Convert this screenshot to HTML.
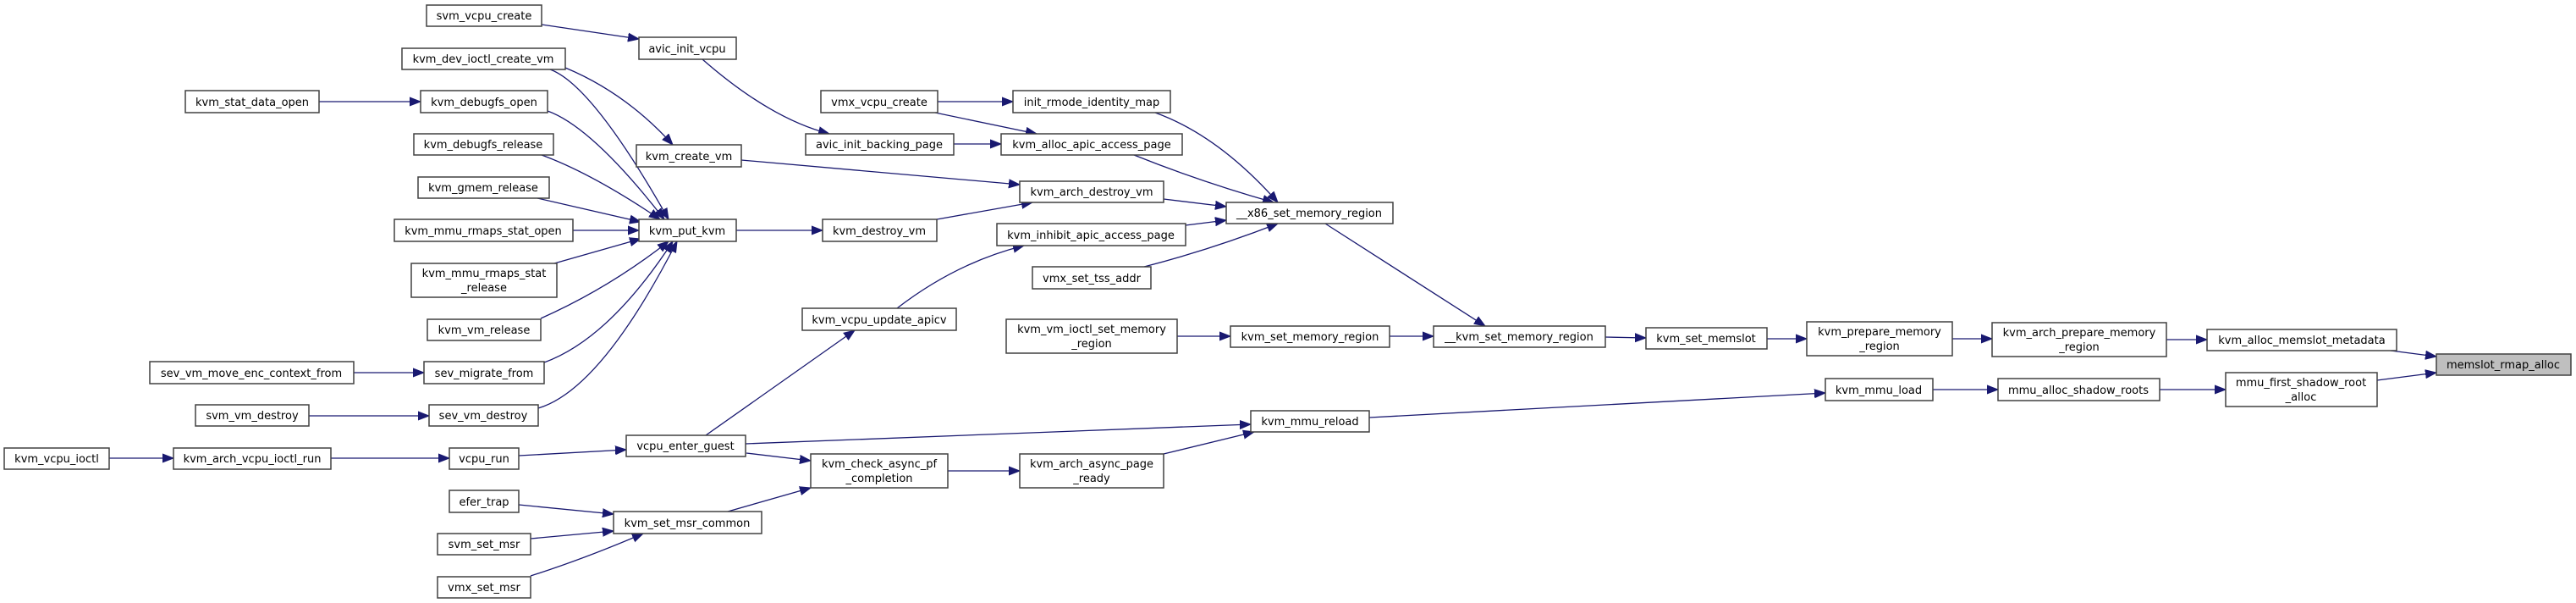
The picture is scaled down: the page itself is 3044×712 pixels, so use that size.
<!DOCTYPE html>
<html><head><meta charset="utf-8"><style>
html,body{margin:0;padding:0;background:#fff;width:3044px;height:712px;overflow:hidden}
svg text{font-family:"DejaVu Sans","Liberation Sans",sans-serif;font-size:13px;fill:#000;text-anchor:middle}
rect{fill:#fff;stroke:#404040;stroke-width:1.5}
path{fill:none;stroke:#191970;stroke-width:1.3}
</style></head><body>
<svg width="3044" height="712" viewBox="0 0 3044 712" xmlns="http://www.w3.org/2000/svg">
<defs><marker id="a" markerUnits="userSpaceOnUse" markerWidth="14" markerHeight="12" refX="13" refY="6" orient="auto"><path d="M0,1 L13,6 L0,11 Z" style="fill:#191970;stroke:#191970;stroke-width:1"/></marker></defs>
<g marker-end="url(#a)">
<path d="M640,29 L755,46"/>
<path d="M668,80 Q740,110 795,171"/>
<path d="M650,82 Q700,100 790,259"/>
<path d="M377,120 L497,120"/>
<path d="M647,131 Q700,150 785,259"/>
<path d="M640,183 Q700,205 780,259"/>
<path d="M635,234 L757,262"/>
<path d="M677,272 L755,272"/>
<path d="M655,311 L757,282"/>
<path d="M639,376 Q720,340 790,285"/>
<path d="M643,428 Q720,400 795,285"/>
<path d="M636,482 Q710,460 800,285"/>
<path d="M418,440 L501,440"/>
<path d="M365,491 L507,491"/>
<path d="M129,541 L205,541"/>
<path d="M391,541 L531,541"/>
<path d="M613,538 L740,531"/>
<path d="M613,596 L725,607"/>
<path d="M627,636 L725,627"/>
<path d="M627,680 Q690,660 760,630"/>
<path d="M830,70 Q910,140 980,158"/>
<path d="M876,189 L1205,218"/>
<path d="M870,272 L972,272"/>
<path d="M1107,259 L1220,239"/>
<path d="M1108,120 L1197,120"/>
<path d="M1105,133 L1225,158"/>
<path d="M1127,170 L1183,170"/>
<path d="M1365,133 Q1440,160 1510,239"/>
<path d="M1340,183 Q1420,215 1505,239"/>
<path d="M1375,235 L1449,244"/>
<path d="M1401,266 L1449,260"/>
<path d="M1352,315 Q1430,295 1510,264"/>
<path d="M1060,364 Q1130,310 1210,290"/>
<path d="M834,514 L1010,390"/>
<path d="M882,535 L958,544"/>
<path d="M881,524 L1478,501"/>
<path d="M860,604 L958,576"/>
<path d="M1120,556 L1205,556"/>
<path d="M1375,536 L1482,510"/>
<path d="M1391,397 L1454,397"/>
<path d="M1642,397 L1694,397"/>
<path d="M1566,264 L1755,385"/>
<path d="M1897,398 L1945,399"/>
<path d="M2088,400 L2135,400"/>
<path d="M2307,400 L2354,400"/>
<path d="M2560,401 L2608,401"/>
<path d="M2825,414 L2879,421"/>
<path d="M1618,493 L2157,464"/>
<path d="M2284,460 L2361,460"/>
<path d="M2552,460 L2630,460"/>
<path d="M2809,449 L2879,440"/>
</g>
<g>
<rect x="504" y="6" width="136" height="25"/><text x="572" y="23">svm_vcpu_create</text>
<rect x="475" y="57" width="193" height="25"/><text x="571" y="74">kvm_dev_ioctl_create_vm</text>
<rect x="219" y="107" width="158" height="26"/><text x="298" y="125">kvm_stat_data_open</text>
<rect x="497" y="107" width="150" height="26"/><text x="572" y="125">kvm_debugfs_open</text>
<rect x="489" y="158" width="165" height="25"/><text x="571" y="175">kvm_debugfs_release</text>
<rect x="494" y="209" width="155" height="25"/><text x="571" y="226">kvm_gmem_release</text>
<rect x="466" y="259" width="211" height="26"/><text x="571" y="277">kvm_mmu_rmaps_stat_open</text>
<rect x="486" y="311" width="172" height="40"/><text x="572" y="327">kvm_mmu_rmaps_stat</text><text x="572" y="344">_release</text>
<rect x="505" y="377" width="134" height="25"/><text x="572" y="394">kvm_vm_release</text>
<rect x="177" y="427" width="241" height="26"/><text x="297" y="445">sev_vm_move_enc_context_from</text>
<rect x="501" y="427" width="142" height="26"/><text x="572" y="445">sev_migrate_from</text>
<rect x="231" y="478" width="134" height="25"/><text x="298" y="495">svm_vm_destroy</text>
<rect x="507" y="478" width="129" height="25"/><text x="571" y="495">sev_vm_destroy</text>
<rect x="5" y="529" width="124" height="25"/><text x="67" y="546">kvm_vcpu_ioctl</text>
<rect x="205" y="529" width="186" height="25"/><text x="298" y="546">kvm_arch_vcpu_ioctl_run</text>
<rect x="531" y="529" width="82" height="25"/><text x="572" y="546">vcpu_run</text>
<rect x="531" y="579" width="82" height="26"/><text x="572" y="597">efer_trap</text>
<rect x="517" y="630" width="110" height="25"/><text x="572" y="647">svm_set_msr</text>
<rect x="517" y="681" width="110" height="25"/><text x="572" y="698">vmx_set_msr</text>
<rect x="725" y="604" width="175" height="26"/><text x="812" y="622">kvm_set_msr_common</text>
<rect x="755" y="44" width="115" height="26"/><text x="812" y="62">avic_init_vcpu</text>
<rect x="752" y="171" width="124" height="26"/><text x="814" y="189">kvm_create_vm</text>
<rect x="755" y="259" width="115" height="26"/><text x="812" y="277">kvm_put_kvm</text>
<rect x="970" y="107" width="138" height="26"/><text x="1039" y="125">vmx_vcpu_create</text>
<rect x="1197" y="107" width="186" height="26"/><text x="1290" y="125">init_rmode_identity_map</text>
<rect x="952" y="158" width="175" height="25"/><text x="1039" y="175">avic_init_backing_page</text>
<rect x="1183" y="158" width="214" height="25"/><text x="1290" y="175">kvm_alloc_apic_access_page</text>
<rect x="1205" y="214" width="170" height="25"/><text x="1290" y="231">kvm_arch_destroy_vm</text>
<rect x="972" y="259" width="135" height="26"/><text x="1039" y="277">kvm_destroy_vm</text>
<rect x="1178" y="264" width="223" height="26"/><text x="1289" y="282">kvm_inhibit_apic_access_page</text>
<rect x="1220" y="315" width="140" height="26"/><text x="1290" y="333">vmx_set_tss_addr</text>
<rect x="1449" y="239" width="197" height="25"/><text x="1547" y="256">__x86_set_memory_region</text>
<rect x="948" y="364" width="182" height="26"/><text x="1039" y="382">kvm_vcpu_update_apicv</text>
<rect x="1189" y="377" width="202" height="40"/><text x="1290" y="393">kvm_vm_ioctl_set_memory</text><text x="1290" y="410">_region</text>
<rect x="1454" y="385" width="188" height="25"/><text x="1548" y="402">kvm_set_memory_region</text>
<rect x="740" y="514" width="141" height="25"/><text x="810" y="531">vcpu_enter_guest</text>
<rect x="958" y="536" width="162" height="40"/><text x="1039" y="552">kvm_check_async_pf</text><text x="1039" y="569">_completion</text>
<rect x="1205" y="536" width="170" height="40"/><text x="1290" y="552">kvm_arch_async_page</text><text x="1290" y="569">_ready</text>
<rect x="1478" y="485" width="140" height="25"/><text x="1548" y="502">kvm_mmu_reload</text>
<rect x="1694" y="385" width="203" height="25"/><text x="1795" y="402">__kvm_set_memory_region</text>
<rect x="1945" y="387" width="143" height="25"/><text x="2016" y="404">kvm_set_memslot</text>
<rect x="2135" y="380" width="172" height="40"/><text x="2221" y="396">kvm_prepare_memory</text><text x="2221" y="413">_region</text>
<rect x="2157" y="447" width="127" height="26"/><text x="2220" y="465">kvm_mmu_load</text>
<rect x="2354" y="381" width="206" height="40"/><text x="2457" y="397">kvm_arch_prepare_memory</text><text x="2457" y="414">_region</text>
<rect x="2608" y="389" width="224" height="25"/><text x="2720" y="406">kvm_alloc_memslot_metadata</text>
<rect x="2879" y="418" width="159" height="25" style="fill:#bfbfbf"/><text x="2958" y="435">memslot_rmap_alloc</text>
<rect x="2361" y="447" width="191" height="26"/><text x="2456" y="465">mmu_alloc_shadow_roots</text>
<rect x="2630" y="440" width="179" height="40"/><text x="2719" y="456">mmu_first_shadow_root</text><text x="2719" y="473">_alloc</text>
</g>
</svg>
</body></html>
